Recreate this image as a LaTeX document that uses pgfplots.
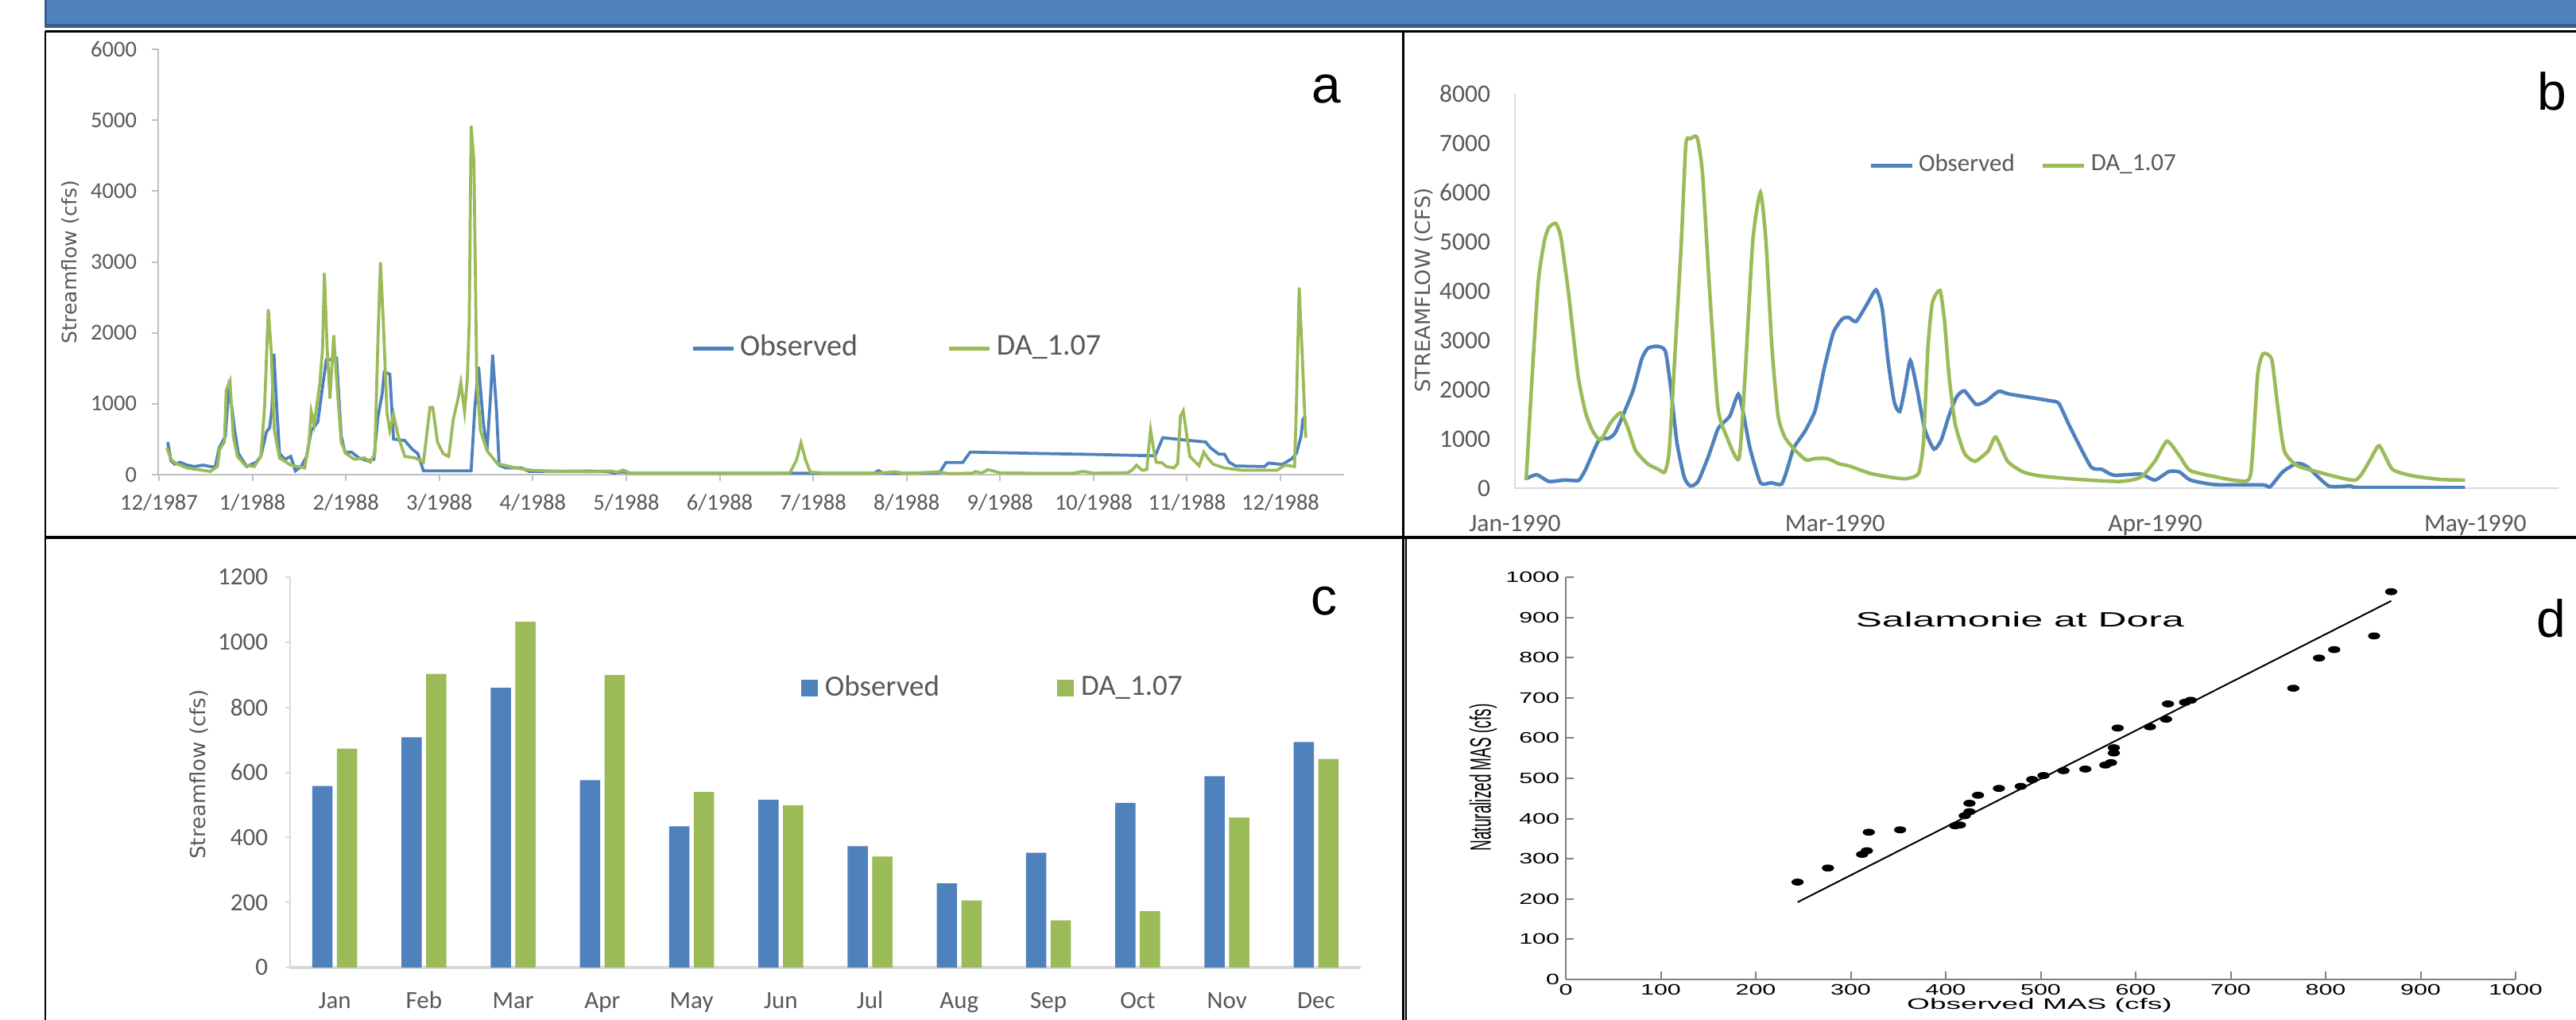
\documentclass[border=0pt]{standalone}
\usepackage{fontspec}
\setmainfont{Carlito}
\newfontfamily\dejavu{DejaVu Sans}
\newfontfamily\arial{Liberation Sans}
\usepackage{graphicx}
\usepackage{pgfplots}
\usepackage{pgfplotstable}
\pgfplotsset{compat=1.18}
\definecolor{xlblue}{RGB}{79,129,189}
\definecolor{xlgreen}{RGB}{155,187,89}
\definecolor{xlgray}{RGB}{89,89,89}
\definecolor{banddark}{RGB}{56,93,138}
\definecolor{axgray}{RGB}{191,191,191}
\definecolor{axlight}{RGB}{217,217,217}

\pgfplotstableread{
x y
0.094 460
0.128 196
0.17 147
0.227 175
0.30 134
0.38 114
0.47 134
0.60 102
0.645 379
0.71 541
0.746 1193
0.78 949
0.81 623
0.85 297
0.94 114
1.04 175
1.09 257
1.15 603
1.185 664
1.21 949
1.23 1703
1.26 949
1.29 297
1.35 216
1.41 257
1.46 53
1.52 114
1.58 257
1.63 623
1.70 745
1.75 1234
1.79 1621
1.86 1621
1.90 1641
1.95 541
1.99 318
2.06 318
2.14 236
2.23 196
2.30 216
2.34 786
2.39 1153
2.41 1446
2.47 1418
2.51 501
2.63 481
2.71 358
2.77 297
2.83 53
3.03 53
3.34 53
3.38 949
3.42 1519
3.47 745
3.51 338
3.55 1153
3.57 1690
3.61 949
3.64 134
3.71 94
3.88 94
3.96 45
4.33 48
4.60 50
4.80 45
4.87 20
4.96 40
5.05 20
5.5 20
6.0 20
6.5 20
7.0 20
7.5 20
7.65 20
7.70 56
7.75 20
8.0 20
8.35 25
8.42 170
8.60 170
8.68 318
9.35 300
10.0 285
10.66 265
10.74 521
10.94 493
11.20 460
11.25 379
11.34 289
11.40 289
11.45 175
11.52 122
11.83 114
11.87 163
12.02 143
12.12 224
12.17 297
12.22 542
12.24 786
12.27 827
}\tabAobs

\pgfplotstableread{
x y
0.085 380
0.128 216
0.185 155
0.30 94
0.47 61
0.55 45
0.625 114
0.65 358
0.70 460
0.72 1193
0.76 1316
0.795 541
0.84 257
0.92 134
1.02 114
1.09 257
1.13 949
1.17 2334
1.20 1764
1.235 623
1.29 236
1.41 134
1.56 94
1.605 460
1.63 888
1.66 705
1.72 1275
1.75 1764
1.77 2843
1.80 1764
1.83 1071
1.87 1967
1.90 1356
1.95 460
2.00 297
2.09 216
2.20 236
2.26 175
2.31 297
2.34 1764
2.37 2998
2.40 2171
2.44 868
2.47 623
2.51 847
2.56 541
2.63 257
2.74 236
2.83 175
2.90 949
2.93 949
2.98 460
3.04 297
3.10 257
3.15 786
3.20 1071
3.23 1295
3.27 888
3.30 1356
3.32 2171
3.34 4920
3.37 4411
3.40 1356
3.44 623
3.51 338
3.62 155
3.82 94
3.99 61
4.33 45
4.42 52
4.60 40
4.83 52
4.90 35
4.97 64
5.05 15
5.5 15
6.0 15
6.5 15
6.75 25
6.82 200
6.87 449
6.92 200
6.97 35
7.2 15
7.7 20
7.87 40
8.0 15
8.33 40
8.45 15
8.7 20
8.74 45
8.8 20
8.87 70
8.93 50
9.0 25
9.35 20
9.78 20
9.89 45
10.0 20
10.37 28
10.42 73
10.46 134
10.52 61
10.57 73
10.59 379
10.61 631
10.64 379
10.67 175
10.73 167
10.78 114
10.86 94
10.90 155
10.93 827
10.96 900
10.99 623
11.03 257
11.09 175
11.13 126
11.18 318
11.22 236
11.28 147
11.40 94
11.59 61
11.96 61
12.05 134
12.15 114
12.17 949
12.20 2640
12.23 1764
12.27 521
}\tabAda

\pgfplotstableread{
x y
0.035 191
0.068 273
0.106 136
0.154 164
0.187 153
0.201 164
0.221 382
0.263 981
0.292 1009
0.315 1145
0.368 1963
0.396 2617
0.415 2835
0.444 2879
0.470 2781
0.487 2017
0.506 927
0.529 218
0.548 44
0.572 136
0.605 654
0.634 1200
0.653 1336
0.672 1472
0.698 1908
0.715 1472
0.734 818
0.767 109
0.800 109
0.833 82
0.853 436
0.871 818
0.905 1145
0.938 1581
0.967 2454
0.995 3162
1.023 3435
1.043 3462
1.066 3381
1.100 3735
1.128 4024
1.147 3653
1.166 2563
1.185 1745
1.202 1554
1.218 2017
1.235 2590
1.256 2017
1.280 1200
1.309 791
1.332 981
1.356 1472
1.380 1854
1.404 1974
1.440 1700
1.470 1760
1.511 1963
1.544 1908
1.622 1827
1.672 1772
1.699 1718
1.733 1254
1.799 436
1.833 382
1.871 262
1.954 284
1.999 164
2.043 338
2.076 327
2.110 164
2.187 71
2.337 65
2.359 27
2.398 327
2.442 502
2.475 436
2.542 44
2.609 44
2.642 11
2.968 11
}\tabBobs

\pgfplotstableread{
x y
0.035 164
0.054 2290
0.073 4198
0.092 5016
0.106 5289
0.128 5371
0.144 5071
0.168 3926
0.197 2290
0.221 1527
0.244 1145
0.268 981
0.297 1309
0.330 1527
0.354 1200
0.377 763
0.415 491
0.448 382
0.468 327
0.482 763
0.501 2835
0.520 5016
0.534 6979
0.548 7088
0.569 7116
0.586 6379
0.609 3926
0.634 1636
0.662 1036
0.700 600
0.719 2290
0.743 5016
0.767 5998
0.784 5016
0.803 2835
0.822 1472
0.843 1036
0.876 763
0.910 572
0.938 600
0.976 600
1.014 491
1.043 453
1.109 300
1.176 218
1.223 191
1.261 300
1.276 927
1.290 2835
1.304 3762
1.328 4008
1.342 3381
1.356 2290
1.375 1309
1.404 709
1.437 545
1.478 750
1.502 1036
1.539 545
1.588 327
1.644 245
1.755 180
1.888 136
1.954 218
1.999 545
2.037 954
2.076 654
2.110 354
2.198 218
2.259 153
2.298 273
2.320 2290
2.337 2726
2.364 2617
2.381 1745
2.403 763
2.442 463
2.509 327
2.625 164
2.669 545
2.700 861
2.741 382
2.808 245
2.896 174
2.968 164
}\tabBda

\pgfplotstableread{
i obs da
0 558 673
1 708 903
2 860 1063
3 576 899
4 434 540
5 516 499
6 373 341
7 259 206
8 353 145
9 506 173
10 588 461
11 693 641
}\tabC

\pgfplotstableread{
x y
244 242
276 277
312 311
317 320
319 366
352 372
410 382
415 384
420 407
425 417
425 438
434 458
456 475
479 480
491 497
503 507
524 519
547 523
568 533
574 539
577 563
577 576
581 625
615 628
632 647
634 685
652 689
658 694
766 724
793 799
809 820
851 854
869 964
}\tabD

\newcommand\fA{\fontsize{5.7}{6.8}\selectfont}
\newcommand\fB{\fontsize{6.3}{7.5}\selectfont}
\newcommand\fC{\fontsize{6.2}{7.4}\selectfont}

\begin{document}
\begin{tikzpicture}
\path[use as bounding box] (0,0) rectangle (648.2pt,-256.6pt);
\fill[white] (0,0) rectangle (648.2pt,-256.6pt);
% banner
\fill[banddark] (11.2pt,0) rectangle (648.2pt,-7.0pt);
\fill[xlblue] (11.8pt,0) rectangle (648.2pt,-6.1pt);
% frame
\draw[black, line width=0.5pt] (11.4pt,-7.9pt) -- (648.2pt,-7.9pt);
\draw[black, line width=0.5pt] (11.4pt,-7.9pt) -- (11.4pt,-256.6pt);
\draw[black, line width=0.6pt] (353pt,-7.9pt) -- (353pt,-256.6pt);
\draw[black, line width=0.4pt] (353.8pt,-135.2pt) -- (353.8pt,-256.6pt);
\draw[black, line width=0.7pt] (11.4pt,-135.2pt) -- (648.2pt,-135.2pt);

% ---------------- panel a
\begin{axis}[at={(39.8pt,-119.4pt)}, anchor=south west, scale only axis,
  width=298.4pt, height=107pt,
  xmin=-0.0085, xmax=12.68, ymin=0, ymax=6000,
  axis lines=left, axis line style={-, axgray, line width=0.5pt},
  tick style={axgray, line width=0.4pt}, tick align=outside, major tick length=1.6pt,
  xtick={0,...,12},
  xticklabels={12/1987,1/1988,2/1988,3/1988,4/1988,5/1988,6/1988,7/1988,8/1988,9/1988,10/1988,11/1988,12/1988},
  ytick={0,1000,...,6000},
  /pgf/number format/.cd, 1000 sep={}, assume math mode=true, /pgfplots/.cd,
  yticklabel style={font=\fA, text=xlgray, inner sep=0pt, anchor=east, xshift=-3.6pt},
  xticklabel style={font=\fA, text=xlgray, inner sep=0pt, anchor=base, yshift=-7.3pt},
  ylabel={Streamflow (cfs)},
  y label style={at={(axis description cs:-0.0741,0.4998)}, anchor=center, font=\dejavu\fontsize{5}{6}\selectfont, text=xlgray},
  legend style={at={(0.4484,0.2972)}, anchor=west, draw=none, fill=none, inner sep=0pt,
    font=\fontsize{7.6}{9}\selectfont, text=xlgray, nodes={inner sep=0pt},
    /tikz/every odd column/.style={column sep=1.2pt},
    /tikz/every even column/.style={column sep=22.6pt}},
  legend columns=2,
  legend image code/.code={\draw[#1, line width=1pt] (0pt,0pt) -- (10.2pt,0pt);},
]
\addplot[xlblue, line width=0.75pt] table {\tabAobs};
\addplot[xlgreen, line width=0.75pt] table {\tabAda};
\legend{Observed, DA\_1.07}
\end{axis}

% ---------------- panel b
\begin{axis}[at={(381.2pt,-122.8pt)}, anchor=south west, scale only axis,
  width=262.6pt, height=99.2pt,
  xmin=0, xmax=3.26, ymin=0, ymax=8000,
  axis lines=left, axis line style={-, axlight, line width=0.5pt},
  major tick length=0pt,
  xtick={0,1,2,3}, xticklabels={Jan-1990,Mar-1990,Apr-1990,May-1990},
  ytick={0,1000,...,8000},
  /pgf/number format/.cd, 1000 sep={}, assume math mode=true, /pgfplots/.cd,
  yticklabel style={font=\fB, text=xlgray, inner sep=0pt, anchor=east, xshift=-6pt},
  xticklabel style={font=\fB, text=xlgray, inner sep=0pt, anchor=north, yshift=-6.6pt},
  ylabel={STREAMFLOW (CFS)},
  y label style={at={(axis description cs:-0.0876,0.502)}, anchor=center, font=\dejavu\fontsize{5.15}{6}\selectfont, text=xlgray},
  legend style={at={(0.3382,0.8185)}, anchor=west, draw=none, fill=none, inner sep=0pt,
    font=\fontsize{6.2}{7.4}\selectfont, text=xlgray, nodes={inner sep=0pt},
    /tikz/every odd column/.style={column sep=1.2pt},
    /tikz/every even column/.style={column sep=6.6pt}},
  legend columns=2,
  legend image code/.code={\draw[#1, line width=1pt] (0pt,0pt) -- (10.4pt,0pt);},
]
\addplot[xlblue, line width=0.9pt, smooth, tension=0.35] table {\tabBobs};
\addplot[xlgreen, line width=0.9pt, smooth, tension=0.35] table {\tabBda};
\legend{Observed, DA\_1.07}
\end{axis}

% ---------------- panel c
\begin{axis}[at={(73pt,-243.4pt)}, anchor=south west, scale only axis,
  width=269.4pt, height=98.2pt,
  xmin=-0.5, xmax=11.5, ymin=0, ymax=1200,
  ybar=1.1pt, bar width=5.1pt,
  axis lines=left, axis line style={-},
  x axis line style={axlight, line width=0.7pt},
  y axis line style={axlight, line width=0.4pt},
  tick style={axlight, line width=0.4pt}, tick align=outside, major tick length=1.2pt,
  xtick={0,...,11}, xticklabels={Jan,Feb,Mar,Apr,May,Jun,Jul,Aug,Sep,Oct,Nov,Dec},
  xtick style={draw=none},
  ytick={0,200,...,1200},
  /pgf/number format/.cd, 1000 sep={}, assume math mode=true, /pgfplots/.cd,
  yticklabel style={font=\fC, text=xlgray, inner sep=0pt, anchor=east, xshift=-4.2pt},
  xticklabel style={font=\fC, text=xlgray, inner sep=0pt, anchor=base, yshift=-9.1pt},
  ylabel={Streamflow (cfs)},
  y label style={at={(axis description cs:-0.0854,0.4949)}, anchor=center, font=\dejavu\fontsize{5.2}{6}\selectfont, text=xlgray},
  legend style={at={(0.4766,0.7149)}, anchor=west, draw=none, fill=none, inner sep=0pt,
    font=\fontsize{7.4}{8.8}\selectfont, text=xlgray, nodes={inner sep=0pt},
    /tikz/every odd column/.style={column sep=1.8pt},
    /tikz/every even column/.style={column sep=29.6pt}},
  legend columns=2,
]
\addplot[fill=xlblue, draw=none, legend image code/.code={\fill[xlblue] (0pt,-2.1pt) rectangle (4.2pt,2.1pt);}] table[x=i, y=obs] {\tabC};
\addplot[fill=xlgreen, draw=none, legend image code/.code={\fill[xlgreen] (0pt,-2.1pt) rectangle (4.2pt,2.1pt);}] table[x=i, y=da] {\tabC};
\legend{Observed, DA\_1.07}
\end{axis}

% ---------------- panel d
\begin{axis}[at={(394pt,-246.4pt)}, anchor=south west, scale only axis,
  width=239pt, height=101.2pt,
  xmin=0, xmax=1000, ymin=0, ymax=1000,
  axis lines=left, axis line style={-, gray, line width=0.4pt},
  tick style={gray, line width=0.4pt}, tick align=inside, major tick length=2pt,
  xtick={0,100,...,1000}, ytick={0,100,...,1000},
  /pgf/number format/.cd, 1000 sep={}, assume math mode=true, /pgfplots/.cd,
  yticklabel style={font=\arial\fontsize{3.8}{4.5}\selectfont, xscale=1.6, inner sep=0pt, anchor=east, xshift=-0.8pt},
  xticklabel style={font=\arial\fontsize{3.8}{4.5}\selectfont, xscale=1.6, inner sep=0pt, anchor=north, yshift=-1pt},
  xlabel={Observed MAS (cfs)},
  ylabel={\scalebox{1}[1.95]{Naturalized MAS (cfs)}},
  x label style={at={(axis description cs:0.4987,-0.0652)}, anchor=center, font=\arial\fontsize{3.8}{4.5}\selectfont, xscale=1.95},
  y label style={at={(axis description cs:-0.087,0.502)}, anchor=center, font=\arial\fontsize{3.8}{4.5}\selectfont},
]
\addplot[only marks, mark=*, mark size=0.68pt, mark options={xscale=1.95, fill=black, draw=black}] table {\tabD};
\addplot[black, line width=0.4pt] coordinates {(244,192) (869,941)};
\node[font=\arial\fontsize{5.2}{6}\selectfont, xscale=1.92] at (axis cs:478,895) {Salamonie at Dora};
\end{axis}

% panel letters
\node[font=\arial\fontsize{13.2}{14}\selectfont, anchor=base, inner sep=0pt] at (333.8pt,-26pt) {a};
\node[font=\arial\fontsize{13.2}{14}\selectfont, anchor=base, inner sep=0pt] at (642.2pt,-27.8pt) {b};
\node[font=\arial\fontsize{13.2}{14}\selectfont, anchor=base, inner sep=0pt] at (333.2pt,-154.6pt) {c};
\node[font=\arial\fontsize{13.2}{14}\selectfont, anchor=base, inner sep=0pt] at (642pt,-160.2pt) {d};
\end{tikzpicture}
\end{document}
